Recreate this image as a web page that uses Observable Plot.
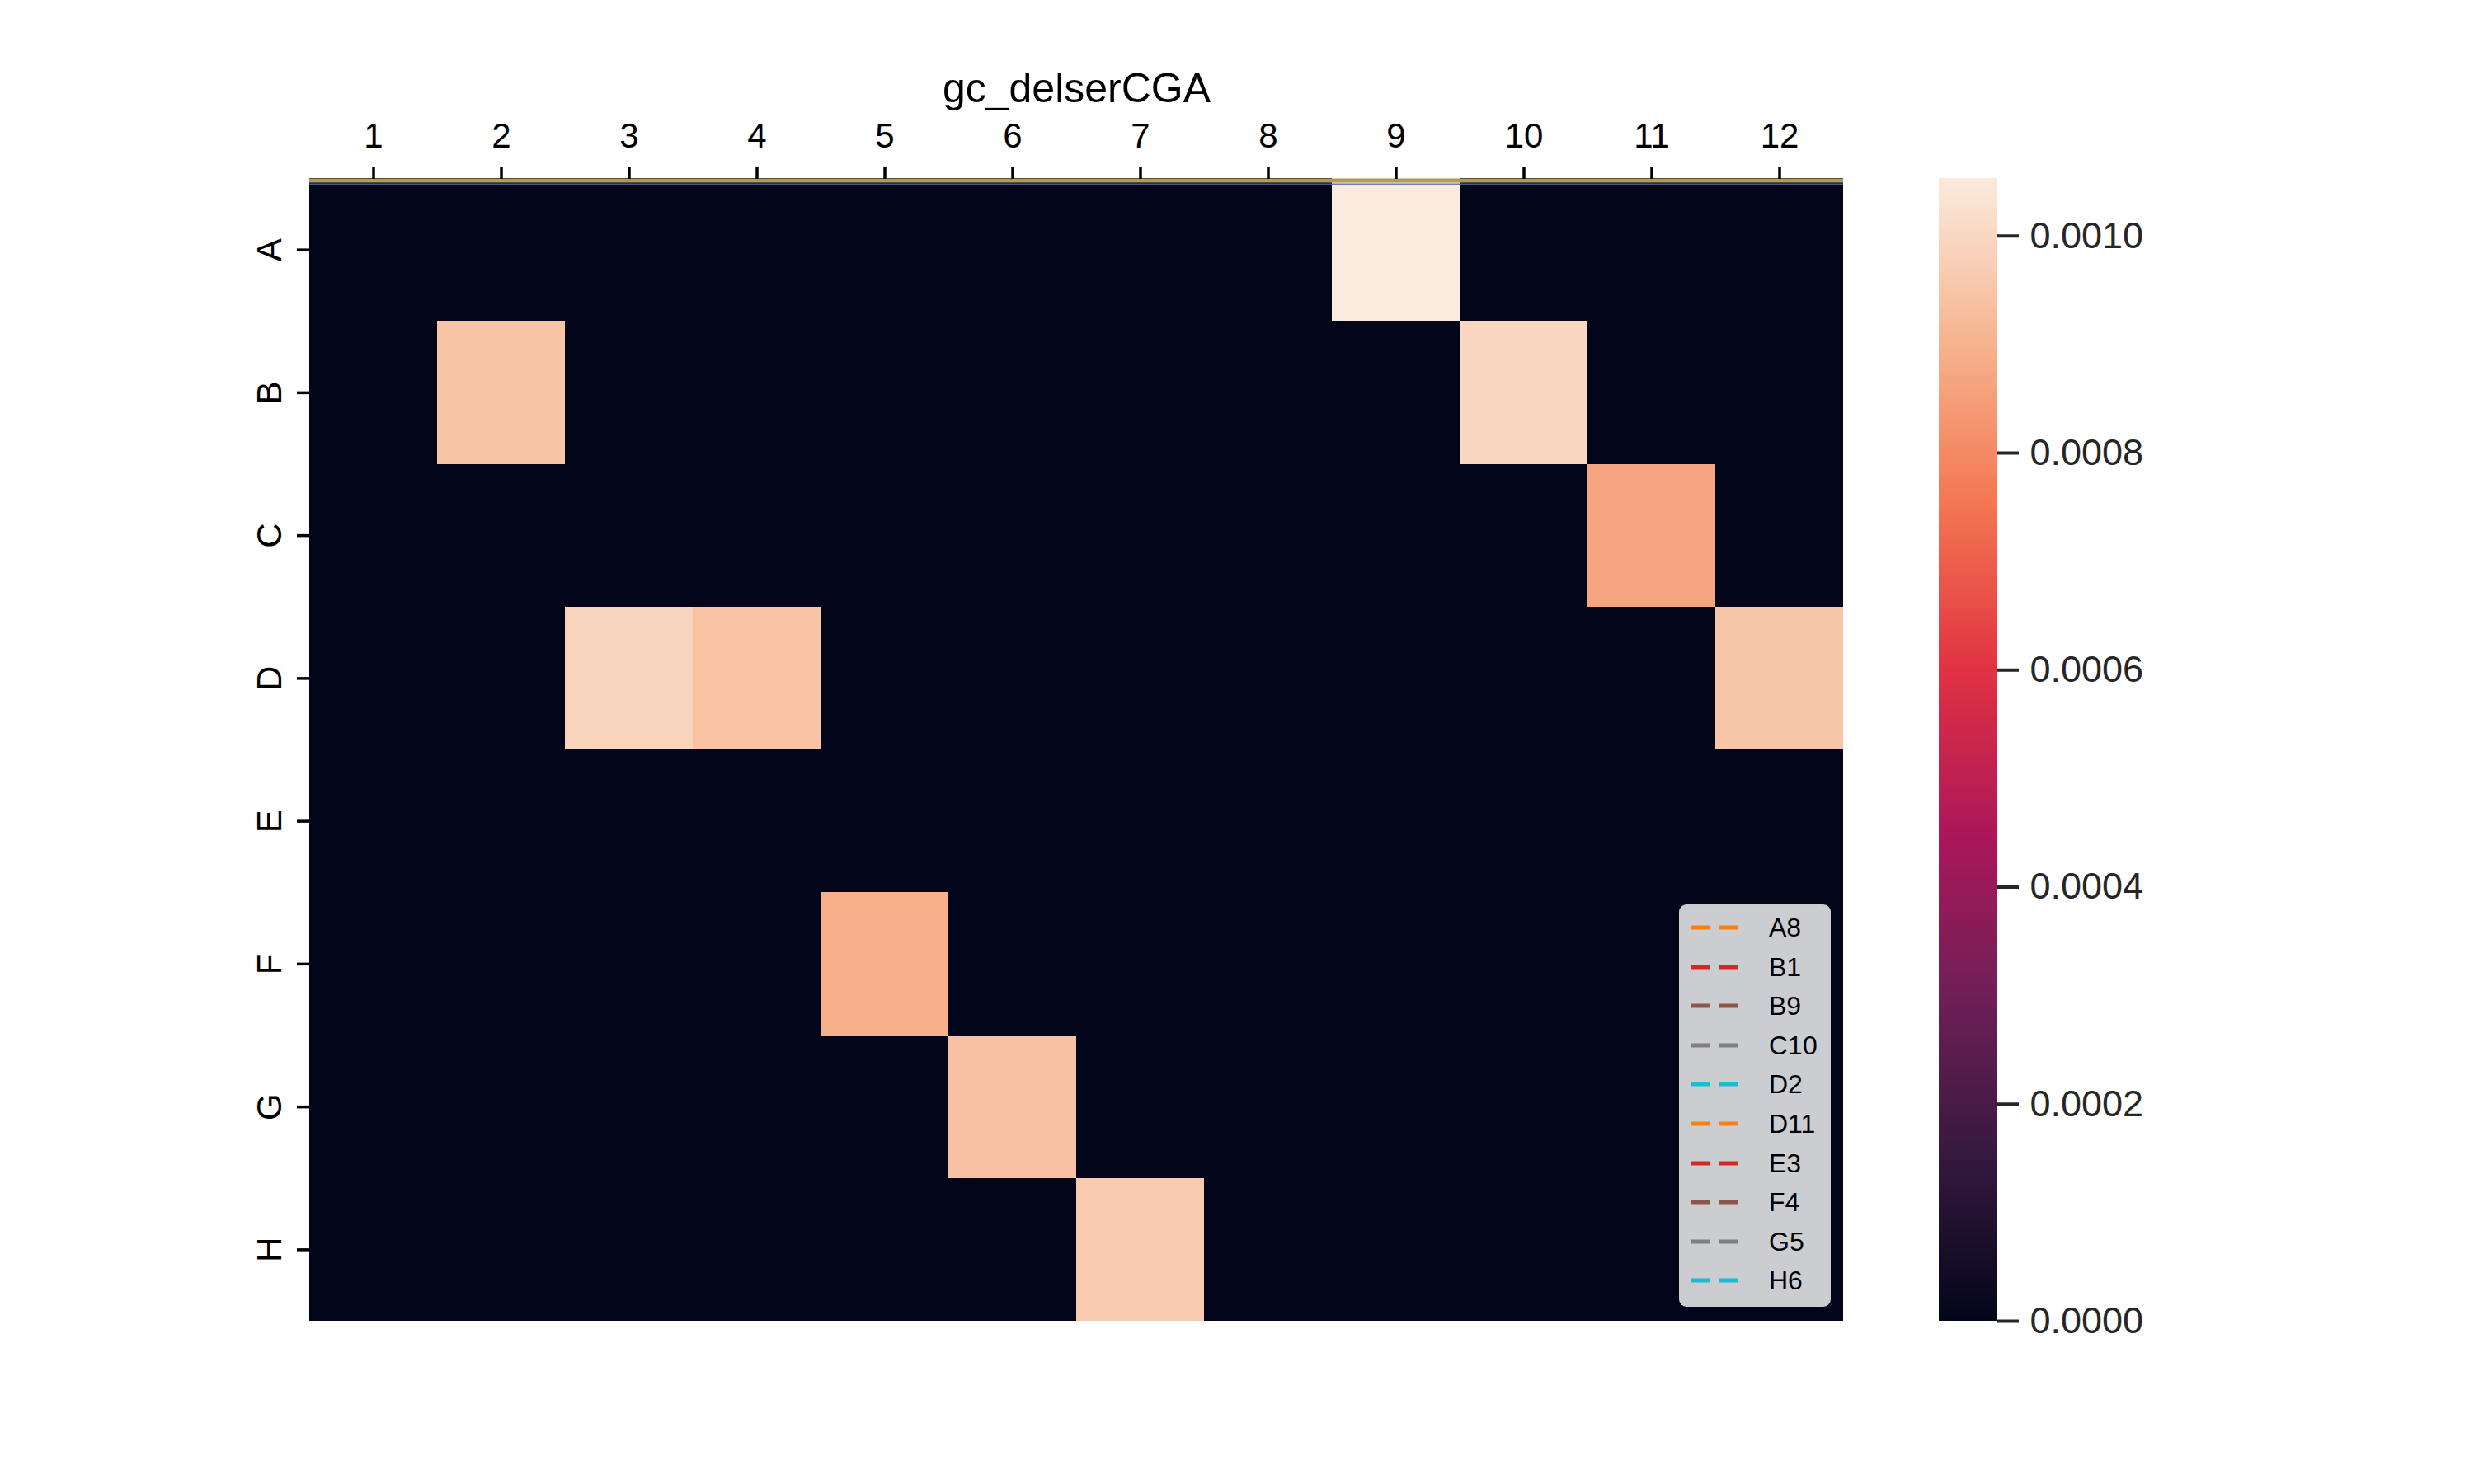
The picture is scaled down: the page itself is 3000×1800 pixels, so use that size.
<!DOCTYPE html>
<html><head><meta charset="utf-8">
<script src="https://cdn.jsdelivr.net/npm/d3@7"></script>
<script src="https://cdn.jsdelivr.net/npm/@observablehq/plot@0.6"></script>
<style>
body{margin:0;background:#fff;font-family:"Liberation Sans",Arial,sans-serif;}
#wrap{position:relative;width:3000px;height:1800px;overflow:hidden;}
#wrap > svg{position:absolute;left:0;top:0;}
#cb{position:absolute;left:2351px;top:156px;}
#legend{position:absolute;left:2036px;top:1097px;width:178px;height:482px;background:rgba(255,255,255,0.8);border:3px solid rgba(204,204,204,0.8);border-radius:9px;}
.lg-row{position:absolute;left:0;height:40px;width:178px;}
.lg-row svg{position:absolute;left:9px;top:0;}
.lg-row span{position:absolute;left:106px;top:0;line-height:40px;font-size:32px;color:#000;}
</style></head><body><div id="wrap"><div id="cb"></div><div id="legend"></div></div>
<script>
// ---- data ----
const title = "gc_delserCGA";
const rows = ["A","B","C","D","E","F","G","H"];
const cols = [1,2,3,4,5,6,7,8,9,10,11,12];
// non-zero cells (all others are 0)
const hotRow = ["A","B","B","C","D","D","D","F","G","H"];
const hotCol = [9,2,10,11,3,4,12,5,6,7];
const hotVal = [0.001053,0.000947,0.000998,0.000869,0.000990,0.000944,0.000952,0.000893,0.000940,0.000966];
const cbTicks = [0,0.0002,0.0004,0.0006,0.0008,0.0010];
const legendNames = ["A8","B1","B9","C10","D2","D11","E3","F4","G5","H6"];
const legendColors = ["#ff7f0e","#d62728","#8c564b","#7f7f7f","#17becf","#ff7f0e","#d62728","#8c564b","#7f7f7f","#17becf"];
const rocketStops = ["#03051a","#35193e","#701f57","#ad1759","#e13342","#f37651","#f6b48f","#faebdd"];

// ---- build table ----
const cells = [];
rows.forEach((r,ri)=>cols.forEach((c,ci)=>{
  let v = 0;
  hotRow.forEach((hr,k)=>{ if(hr===r && hotCol[k]===c) v = hotVal[k]; });
  cells.push({row:r, col:c, ri, ci, value:v});
}));
const rowLabels = rows.map((r,i)=>({label:r, pos:i+0.5}));
const vmax = d3.max(hotVal);
const rocket = d3.piecewise(d3.interpolateRgb, rocketStops);
const colorOpts = {type:"linear", domain:[0,vmax], interpolate:rocket};
const font = "Liberation Sans, Arial, sans-serif";

const main = Plot.plot({
  width:3000, height:1800,
  marginLeft:375, marginRight:765, marginTop:216, marginBottom:198,
  x:{type:"linear", domain:[0,cols.length]},
  y:{type:"linear", domain:[0,rows.length], reverse:true},
  color:colorOpts,
  style:{fontFamily:font, background:"transparent", color:"#000"},
  marks:[
    Plot.rect(cells,{x1:"ci", x2:d=>d.ci+1, y1:"ri", y2:d=>d.ri+1, fill:"value", shapeRendering:"crispEdges"}),
    Plot.ruleY([0],{stroke:"#b09a5c", strokeWidth:5, dy:2.5}),
    Plot.ruleY([0],{stroke:"#4a6cb0", strokeWidth:2, dy:7, strokeOpacity:0.85}),
    Plot.axisX({anchor:"top", ticks:cols.map((c,i)=>i+0.5), tickFormat:d=>String(cols[Math.floor(d)]),
      tickSize:14, tickPadding:24, fontSize:42, label:null, stroke:"#000", strokeWidth:3.5, fill:"#000"}),
    Plot.axisY({anchor:"left", ticks:rowLabels.map(d=>d.pos), tickFormat:()=>"", tickSize:15,
      label:null, stroke:"#000", strokeWidth:3.5}),
    Plot.text(rowLabels,{y:"pos", text:"label", frameAnchor:"left", dx:-35, rotate:-90,
      textAnchor:"middle", lineAnchor:"bottom", fontSize:42, fill:"#000"}),
    Plot.text([title],{frameAnchor:"top", dy:-93, lineAnchor:"bottom", fontSize:50, fill:"#000"})
  ]
});
document.getElementById("wrap").prepend(main);

// ---- colorbar ----
const N = 600;
const slices = d3.range(N).map(i=>({y1:i*vmax/N, y2:(i+1)*vmax/N}));
const cb = Plot.plot({
  width:400, height:1506, marginLeft:0, marginRight:330, marginTop:60, marginBottom:60,
  x:{domain:[0,1], axis:null},
  y:{domain:[0,vmax]},
  color:colorOpts,
  style:{fontFamily:font, background:"transparent"},
  marks:[
    Plot.rect(slices,{x1:0, x2:1, y1:"y1", y2:"y2", fill:d=>(d.y1+d.y2)/2, shapeRendering:"crispEdges"}),
    Plot.axisY({anchor:"right", ticks:cbTicks, tickFormat:d3.format(".4f"), tickSize:26, tickPadding:14,
      fontSize:45, label:null, stroke:"#262626", strokeWidth:4, fill:"#262626"})
  ]
});
document.getElementById("cb").append(cb);

// ---- legend ----
const lg = d3.select("#legend");
legendNames.forEach((name,i)=>{
  const row = lg.append("div").attr("class","lg-row").style("top",(5 + i*47.6)+"px");
  const s = row.append("svg").attr("width",64).attr("height",40);
  s.append("line").attr("x1",2).attr("x2",60).attr("y1",20).attr("y2",20)
    .attr("stroke",legendColors[i]).attr("stroke-width",5).attr("stroke-dasharray","24 10");
  row.append("span").text(name);
});
</script></body></html>
